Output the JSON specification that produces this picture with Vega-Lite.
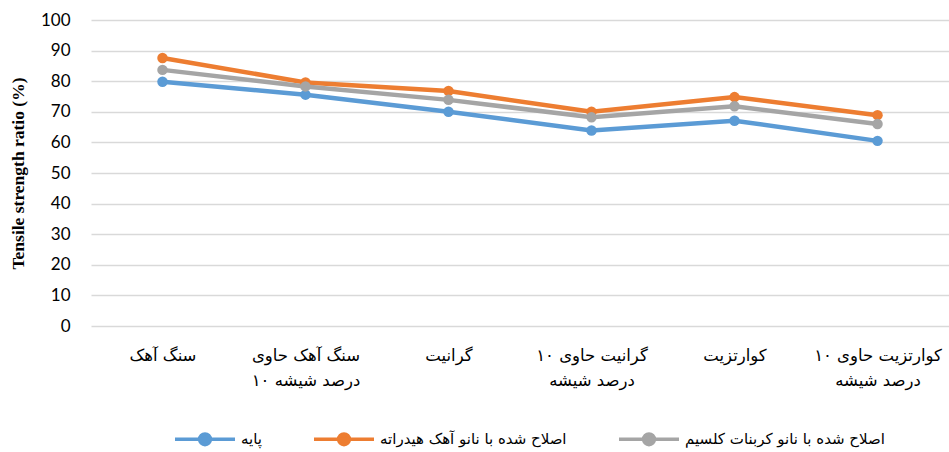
{
  "$schema": "https://vega.github.io/schema/vega-lite/v6.json",
  "width": 858,
  "height": 306,
  "autosize": {"type": "none"},
  "padding": {"left": 91, "top": 20, "right": 0, "bottom": 126},
  "background": "white",
  "config": {"view": {"stroke": null}},
  "data": {
    "values": [
      {"cat": "سنگ آهک", "series": "پایه", "value": 79.8},
      {"cat": "سنگ آهک حاوی\n\u2066۱۰\u2069 درصد شیشه", "series": "پایه", "value": 75.6},
      {"cat": "گرانیت", "series": "پایه", "value": 70.0},
      {"cat": "گرانیت حاوی ۱۰\nدرصد شیشه", "series": "پایه", "value": 63.9},
      {"cat": "کوارتزیت", "series": "پایه", "value": 67.1},
      {"cat": "کوارتزیت حاوی ۱۰\nدرصد شیشه", "series": "پایه", "value": 60.5},
      {"cat": "سنگ آهک", "series": "اصلاح شده با نانو آهک هیدراته", "value": 87.6},
      {"cat": "سنگ آهک حاوی\n\u2066۱۰\u2069 درصد شیشه", "series": "اصلاح شده با نانو آهک هیدراته", "value": 79.6},
      {"cat": "گرانیت", "series": "اصلاح شده با نانو آهک هیدراته", "value": 76.8},
      {"cat": "گرانیت حاوی ۱۰\nدرصد شیشه", "series": "اصلاح شده با نانو آهک هیدراته", "value": 70.0},
      {"cat": "کوارتزیت", "series": "اصلاح شده با نانو آهک هیدراته", "value": 74.8},
      {"cat": "کوارتزیت حاوی ۱۰\nدرصد شیشه", "series": "اصلاح شده با نانو آهک هیدراته", "value": 68.9},
      {"cat": "سنگ آهک", "series": "اصلاح شده با نانو کربنات کلسیم", "value": 83.7},
      {"cat": "سنگ آهک حاوی\n\u2066۱۰\u2069 درصد شیشه", "series": "اصلاح شده با نانو کربنات کلسیم", "value": 78.3},
      {"cat": "گرانیت", "series": "اصلاح شده با نانو کربنات کلسیم", "value": 73.9},
      {"cat": "گرانیت حاوی ۱۰\nدرصد شیشه", "series": "اصلاح شده با نانو کربنات کلسیم", "value": 68.2},
      {"cat": "کوارتزیت", "series": "اصلاح شده با نانو کربنات کلسیم", "value": 71.8},
      {"cat": "کوارتزیت حاوی ۱۰\nدرصد شیشه", "series": "اصلاح شده با نانو کربنات کلسیم", "value": 66.0}
    ]
  },
  "encoding": {
    "x": {
      "field": "cat",
      "type": "nominal",
      "sort": null,
      "title": null,
      "axis": {
        "labelAngle": 0,
        "labelExpr": "split(datum.label, '\\n')",
        "labelFont": "DejaVu Sans",
        "labelFontSize": 16.5,
        "labelColor": "#000000",
        "labelPadding": 21,
        "labelLineHeight": 25,
        "labelLimit": 250,
        "ticks": false,
        "domain": false,
        "grid": false
      }
    },
    "y": {
      "field": "value",
      "type": "quantitative",
      "scale": {"domain": [0, 100]},
      "title": "Tensile strength ratio (%)",
      "axis": {
        "values": [0, 10, 20, 30, 40, 50, 60, 70, 80, 90, 100],
        "labelFont": "Lato",
        "labelFontSize": 17,
        "labelColor": "#000000",
        "labelPadding": 21,
        "ticks": false,
        "domain": false,
        "gridColor": "#D9D9D9",
        "gridWidth": 1.3,
        "titleFont": "Liberation Serif",
        "titleFontSize": 17.5,
        "titleFontWeight": "bold",
        "titleColor": "#000000",
        "titlePadding": 13
      }
    },
    "color": {
      "field": "series",
      "type": "nominal",
      "sort": ["پایه", "اصلاح شده با نانو آهک هیدراته", "اصلاح شده با نانو کربنات کلسیم"],
      "scale": {"range": ["#5B9BD5", "#ED7D31", "#A5A5A5"]},
      "legend": {
        "orient": "none",
        "legendX": 82,
        "legendY": 387,
        "direction": "horizontal",
        "title": null,
        "labelFont": "DejaVu Sans",
        "labelFontSize": 15,
        "labelColor": "#000000",
        "labelLimit": 400,
        "symbolType": "M-1,0L1,0M-0.18,0A0.18,0.18,0,1,1,0.18,0A0.18,0.18,0,1,1,-0.18,0Z",
        "symbolSize": 3600,
        "symbolStrokeWidth": 3.5,
        "symbolOpacity": 1,
        "labelOffset": 4,
        "columnPadding": 45
      }
    }
  },
  "layer": [
    {"mark": {"type": "line", "strokeWidth": 4.5}},
    {"mark": {"type": "point", "filled": true, "size": 110, "opacity": 1}}
  ]
}
